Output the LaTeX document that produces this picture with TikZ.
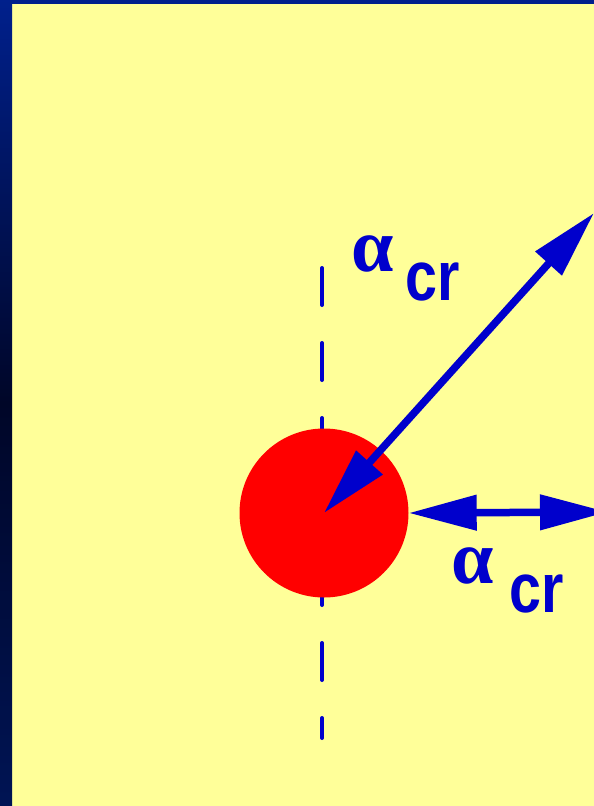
\documentclass[tikz,border=0pt]{standalone}
\usepackage{fontspec}
\setmainfont{Liberation Sans}
\newfontfamily\alphafont{Liberation Serif}
\usetikzlibrary{arrows.meta}
\definecolor{bgyellow}{RGB}{255,255,153}
\definecolor{arrowblue}{RGB}{0,0,204}
\definecolor{frameblue}{RGB}{0,32,140}
\definecolor{framedark}{RGB}{0,6,40}
\definecolor{framebot}{RGB}{0,20,84}
\tikzset{
  bluearrow/.style={draw=arrowblue, line width=7.5pt, {Triangle[length=68pt,width=34pt]}-{Triangle[length=68pt,width=34pt]}},
  alphalabel/.style={text=arrowblue, inner sep=0pt, anchor=base west, font=\alphafont\bfseries\fontsize{76}{80}\selectfont},
  crlabel/.style={text=arrowblue, inner sep=0pt, anchor=base west, font=\bfseries\fontsize{70}{72}\selectfont},
  guide/.style={draw=arrowblue, line width=4pt, line cap=round, dash pattern=on 37pt off 38pt}
}
\begin{document}
\begin{tikzpicture}[x=1pt,y=-1pt]
\useasboundingbox (0,0) rectangle (594,806);
\clip (0,0) rectangle (594,806);
\fill[bgyellow] (0,0) rectangle (594,806);
\fill[frameblue] (0,0) rectangle (594,4);
\shade[top color=frameblue, bottom color=framebot, middle color=framedark, shading angle=0] (0,0) rectangle (12,806);
% dashed vertical guide
\coordinate (gtop) at (322,268);
\coordinate (gbot) at (322,738);
\draw[guide] (gtop) -- (gbot);
% red circle
\node[circle, fill=red, minimum size=169pt, inner sep=0pt] (c) at (324,513) {};
% arrows
\coordinate (ne) at (594,213);
\coordinate (e) at (608,512);
\draw[bluearrow] (c.center) -- (ne);
\draw[bluearrow] (c.east) -- (e);
% labels
\node[alphalabel] (a1) at (351,271) {α};
\node[crlabel] (c1) at (405,300) {\scalebox{0.82}[1]{cr}};
\node[alphalabel] (a2) at (451,583) {α};
\node[crlabel] (c2) at (509,612) {\scalebox{0.82}[1]{cr}};
\end{tikzpicture}
\end{document}
